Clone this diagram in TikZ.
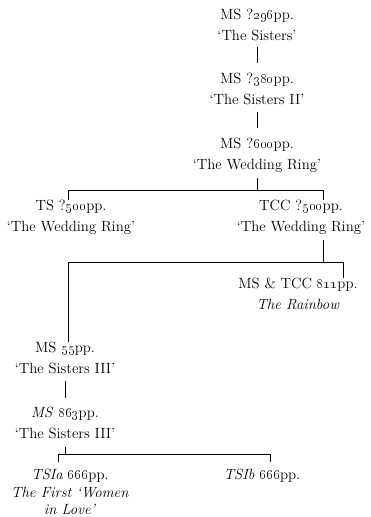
\documentclass[tikz,border=0pt]{standalone}
\begin{document}
\begin{tikzpicture}[x=1pt,y=-1pt,
  txt/.style={anchor=north,align=center,inner sep=0pt,font=\fontsize{14.8}{21}\selectfont},
  conn/.style={line width=1pt,black}]
\useasboundingbox (0,0) rectangle (370,517);
\newcommand\osn[1]{\oldstylenums{#1}}
\node[txt] (n1) at (257,9) {MS ?\osn{296}pp.\\`The Sisters'};
\node[txt] (n2) at (257,73) {MS ?\osn{380}pp.\\`The Sisters II'};
\node[txt] (n3) at (257,138) {MS ?\osn{600}pp.\\`The Wedding Ring'};
\node[txt] (n4) at (71,200) {TS ?\osn{500}pp.\\`The Wedding Ring'};
\node[txt] (n5) at (301,200) {TCC ?\osn{500}pp.\\`The Wedding Ring'};
\node[txt] (n6) at (298,278) {MS \& TCC \osn{811}pp.\\\textit{The Rainbow}};
\node[txt] (n7) at (65,342) {MS \osn{55}pp.\\`The Sisters III'};
\node[txt] (n8) at (65,407) {\textit{MS} \osn{863}pp.\\`The Sisters III'};
\node[txt,font=\fontsize{14.8}{17.5}\selectfont] (n9) at (70,469) {\textit{TSIa} \osn{666}pp.\\\textit{The First `Women}\\\textit{in Love'}};
\node[txt] (n10) at (262,469) {\textit{TSIb} \osn{666}pp.};
\coordinate (b1L) at (68,190);
\coordinate (b1R) at (323,190);
\coordinate (b2L) at (68,262);
\coordinate (b2R) at (343,262);
\coordinate (b3L) at (58,454);
\coordinate (b3R) at (270,454);
\draw[conn] (n1.south |- 0,47) -- (n2.north |- 0,63);
\draw[conn] (n2.south |- 0,112) -- (n3.north |- 0,128);
\draw[conn] (n3.south |- 0,178) -- (n3.south |- b1L);
\draw[conn] (b1L |- n4.north) -- (b1L) -- (b1R) -- (b1R |- n5.north);
\draw[conn] (b1R |- 0,240) -- (b1R |- b2L);
\draw[conn] (b2R |- n6.north) -- (b2R) -- (b2L) -- (b2L |- n7.north);
\draw[conn] (n7.south |- 0,381) -- (n8.north |- 0,398);
\draw[conn] (n8.south |- 0,447) -- (n8.south |- b3L);
\draw[conn] (b3L |- 0,462) -- (b3L) -- (b3R) -- (b3R |- 0,462);
\end{tikzpicture}
\end{document}
